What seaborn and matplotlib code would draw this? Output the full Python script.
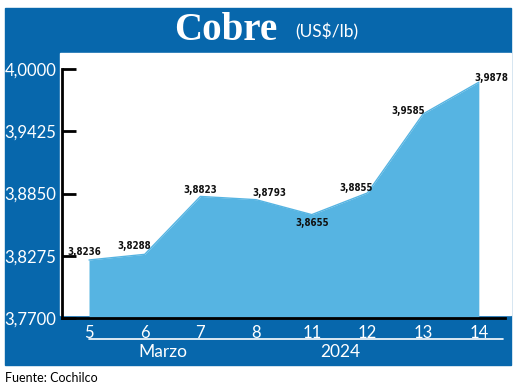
import matplotlib
matplotlib.use("Agg")
import matplotlib.pyplot as plt
from matplotlib.patches import Rectangle
from matplotlib.lines import Line2D
import seaborn as sns

# Data
days = ["5", "6", "7", "8", "11", "12", "13", "14"]
prices = [3.8236, 3.8288, 3.8823, 3.8793, 3.8655, 3.8855, 3.9585, 3.9878]
price_labels = ["3,8236", "3,8288", "3,8823", "3,8793", "3,8655", "3,8855", "3,9585", "3,9878"]
y_ticks = [3.77, 3.8275, 3.885, 3.9425, 4.0]
y_tick_labels = ["3,7700", "3,8275", "3,8850", "3,9425", "4,0000"]
month_label = "Marzo"
year_label = "2024"
source = "Fuente: Cochilco"

BLUE = "#0767ac"
AREA = "#56b4e2"

# label offsets in pixels (dx, dy)
offsets = [(-5, 8), (-11, 8), (0, 6), (13, 7), (0, -8), (-11, 5), (-15, 3), (12, 4)]

sns.set_theme(style="white")
plt.rcParams["font.family"] = ["Lato", "DejaVu Sans"]

W, H = 520, 388
fig = plt.figure(figsize=(W / 100, H / 100), dpi=100, facecolor="white")


def fx(px):
    return px / W


def fy(py):
    return 1 - py / H


# blue frame and white panel
fig.patches.append(Rectangle((fx(5), fy(365)), fx(511) - fx(5), fy(8) - fy(365),
                             transform=fig.transFigure, color=BLUE, zorder=-10))
fig.patches.append(Rectangle((fx(60), fy(315)), fx(511) - fx(60), fy(53) - fy(315),
                             transform=fig.transFigure, color="white", zorder=-9))

ax = fig.add_axes([fx(62), fy(318), fx(505) - fx(62), fy(69) - fy(318)])
ax.set_zorder(5)
ax.patch.set_alpha(0)

pos = list(range(len(days)))
ax.fill_between(pos, prices, 3.77, color=AREA, lw=0)
sns.lineplot(x=pos, y=prices, color=AREA, lw=1, ax=ax)

for i, (p, lab) in enumerate(zip(prices, price_labels)):
    dx, dy = offsets[i]
    ax.annotate(lab, (i, p), xytext=(dx, dy), textcoords="offset pixels",
                ha="center", va="center", fontsize=7, fontweight="bold",
                fontstretch="condensed",
                family=["DejaVu Sans"], color="#111111")

ax.set_xlim(-0.485, 7.47)
ax.set_ylim(3.77, 4.0)
ax.set_yticks(y_ticks)
ax.set_yticklabels(y_tick_labels)
ax.set_xticks(pos)
ax.set_xticklabels(days)
ax.tick_params(axis="y", left=True, direction="in", length=10, width=2, color="black",
               labelcolor="white", labelsize=12, pad=4)
ax.tick_params(axis="x", length=0, labelcolor="white", labelsize=12, pad=5)
ax.grid(False)
for s in ["top", "right"]:
    ax.spines[s].set_visible(False)
for s in ["left", "bottom"]:
    ax.spines[s].set_color("black")
    ax.spines[s].set_linewidth(2)
ax.set_xlabel("")
ax.set_ylabel("")

# title
fig.text(fx(226), fy(30), "Cobre", color="white", fontsize=28, fontweight="bold",
         family=["Liberation Serif", "DejaVu Serif"], ha="center", va="center")
fig.text(fx(295), fy(32), "(US$/lb)", color="white", fontsize=12.5, ha="left", va="center")

# month / year band
fig.lines.append(Line2D([fx(89), fx(503)], [fy(339), fy(339)], transform=fig.transFigure,
                        color="white", lw=1.2))
fig.text(fx(163), fy(352), month_label, color="white", fontsize=12.5, ha="center", va="center")
fig.text(fx(340), fy(352), year_label, color="white", fontsize=12.5, ha="center", va="center")

fig.text(fx(5), fy(378), source, color="black", fontsize=9, ha="left", va="center")

fig.savefig("out.png", dpi=100, facecolor="white")
